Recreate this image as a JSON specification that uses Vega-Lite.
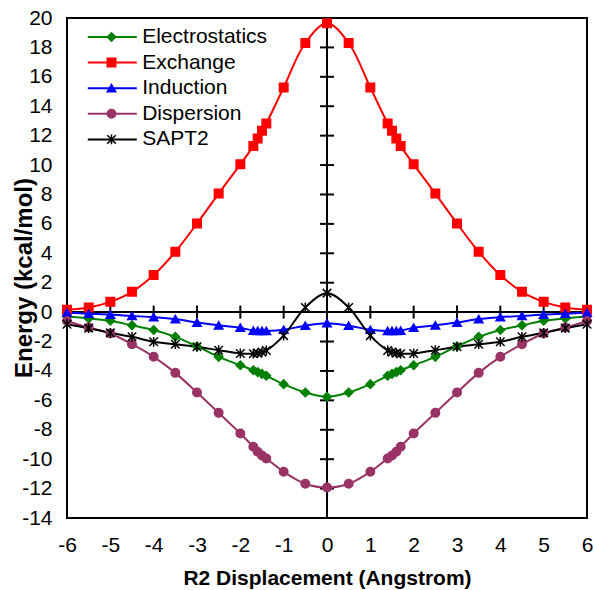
{
  "$schema": "https://vega.github.io/schema/vega-lite/v6.json",
  "width": 520,
  "height": 500,
  "autosize": {"type": "none"},
  "padding": {"left": 67, "top": 18, "right": 7, "bottom": 72},
  "config": {
    "font": "Liberation Sans",
    "view": {"stroke": "black", "strokeWidth": 2},
    "axis": {"grid": false, "domain": false, "ticks": false, "tickSize": 0, "labelOverlap": false, "labelFlush": false, "labelFont": "Liberation Sans", "labelFontSize": 21, "labelColor": "black", "titleFont": "Liberation Sans", "titleFontSize": 21, "titleFontWeight": "bold", "titleColor": "black"}
  },
  "datasets": {
    "d": [
      {"x": -6, "y": -0.3, "s": "Electrostatics"}, {"x": -5.5, "y": -0.43, "s": "Electrostatics"}, {"x": -5, "y": -0.59, "s": "Electrostatics"}, {"x": -4.5, "y": -0.9, "s": "Electrostatics"}, {"x": -4, "y": -1.22, "s": "Electrostatics"}, {"x": -3.5, "y": -1.68, "s": "Electrostatics"}, {"x": -3, "y": -2.33, "s": "Electrostatics"}, {"x": -2.5, "y": -3.04, "s": "Electrostatics"}, {"x": -2, "y": -3.61, "s": "Electrostatics"}, {"x": -1.7, "y": -3.95, "s": "Electrostatics"}, {"x": -1.6, "y": -4.08, "s": "Electrostatics"}, {"x": -1.5, "y": -4.2, "s": "Electrostatics"}, {"x": -1.4, "y": -4.33, "s": "Electrostatics"}, {"x": -1, "y": -4.9, "s": "Electrostatics"}, {"x": -0.5, "y": -5.47, "s": "Electrostatics"}, {"x": 0, "y": -5.76, "s": "Electrostatics"}, {"x": 0.5, "y": -5.47, "s": "Electrostatics"}, {"x": 1, "y": -4.9, "s": "Electrostatics"}, {"x": 1.4, "y": -4.33, "s": "Electrostatics"}, {"x": 1.5, "y": -4.2, "s": "Electrostatics"}, {"x": 1.6, "y": -4.08, "s": "Electrostatics"}, {"x": 1.7, "y": -3.95, "s": "Electrostatics"}, {"x": 2, "y": -3.61, "s": "Electrostatics"}, {"x": 2.5, "y": -3.04, "s": "Electrostatics"}, {"x": 3, "y": -2.33, "s": "Electrostatics"}, {"x": 3.5, "y": -1.68, "s": "Electrostatics"}, {"x": 4, "y": -1.22, "s": "Electrostatics"}, {"x": 4.5, "y": -0.9, "s": "Electrostatics"}, {"x": 5, "y": -0.59, "s": "Electrostatics"}, {"x": 5.5, "y": -0.43, "s": "Electrostatics"}, {"x": 6, "y": -0.3, "s": "Electrostatics"},
      {"x": -6, "y": 0.16, "s": "Exchange"}, {"x": -5.5, "y": 0.32, "s": "Exchange"}, {"x": -5, "y": 0.7, "s": "Exchange"}, {"x": -4.5, "y": 1.38, "s": "Exchange"}, {"x": -4, "y": 2.52, "s": "Exchange"}, {"x": -3.5, "y": 4.1, "s": "Exchange"}, {"x": -3, "y": 6.03, "s": "Exchange"}, {"x": -2.5, "y": 8.06, "s": "Exchange"}, {"x": -2, "y": 10.05, "s": "Exchange"}, {"x": -1.7, "y": 11.29, "s": "Exchange"}, {"x": -1.6, "y": 11.8, "s": "Exchange"}, {"x": -1.5, "y": 12.33, "s": "Exchange"}, {"x": -1.4, "y": 12.83, "s": "Exchange"}, {"x": -1, "y": 15.27, "s": "Exchange"}, {"x": -0.5, "y": 18.3, "s": "Exchange"}, {"x": 0, "y": 19.65, "s": "Exchange"}, {"x": 0.5, "y": 18.3, "s": "Exchange"}, {"x": 1, "y": 15.27, "s": "Exchange"}, {"x": 1.4, "y": 12.83, "s": "Exchange"}, {"x": 1.5, "y": 12.33, "s": "Exchange"}, {"x": 1.6, "y": 11.8, "s": "Exchange"}, {"x": 1.7, "y": 11.29, "s": "Exchange"}, {"x": 2, "y": 10.05, "s": "Exchange"}, {"x": 2.5, "y": 8.06, "s": "Exchange"}, {"x": 3, "y": 6.03, "s": "Exchange"}, {"x": 3.5, "y": 4.1, "s": "Exchange"}, {"x": 4, "y": 2.52, "s": "Exchange"}, {"x": 4.5, "y": 1.38, "s": "Exchange"}, {"x": 5, "y": 0.7, "s": "Exchange"}, {"x": 5.5, "y": 0.32, "s": "Exchange"}, {"x": 6, "y": 0.16, "s": "Exchange"},
      {"x": -6, "y": -0.04, "s": "Induction"}, {"x": -5.5, "y": -0.11, "s": "Induction"}, {"x": -5, "y": -0.17, "s": "Induction"}, {"x": -4.5, "y": -0.26, "s": "Induction"}, {"x": -4, "y": -0.34, "s": "Induction"}, {"x": -3.5, "y": -0.47, "s": "Induction"}, {"x": -3, "y": -0.71, "s": "Induction"}, {"x": -2.5, "y": -0.9, "s": "Induction"}, {"x": -2, "y": -1.06, "s": "Induction"}, {"x": -1.7, "y": -1.26, "s": "Induction"}, {"x": -1.6, "y": -1.27, "s": "Induction"}, {"x": -1.5, "y": -1.28, "s": "Induction"}, {"x": -1.4, "y": -1.28, "s": "Induction"}, {"x": -1, "y": -1.2, "s": "Induction"}, {"x": -0.5, "y": -0.92, "s": "Induction"}, {"x": 0, "y": -0.75, "s": "Induction"}, {"x": 0.5, "y": -0.92, "s": "Induction"}, {"x": 1, "y": -1.2, "s": "Induction"}, {"x": 1.4, "y": -1.28, "s": "Induction"}, {"x": 1.5, "y": -1.28, "s": "Induction"}, {"x": 1.6, "y": -1.27, "s": "Induction"}, {"x": 1.7, "y": -1.26, "s": "Induction"}, {"x": 2, "y": -1.06, "s": "Induction"}, {"x": 2.5, "y": -0.9, "s": "Induction"}, {"x": 3, "y": -0.71, "s": "Induction"}, {"x": 3.5, "y": -0.47, "s": "Induction"}, {"x": 4, "y": -0.34, "s": "Induction"}, {"x": 4.5, "y": -0.26, "s": "Induction"}, {"x": 5, "y": -0.17, "s": "Induction"}, {"x": 5.5, "y": -0.11, "s": "Induction"}, {"x": 6, "y": -0.04, "s": "Induction"},
      {"x": -6, "y": -0.6, "s": "Dispersion"}, {"x": -5.5, "y": -1.05, "s": "Dispersion"}, {"x": -5, "y": -1.45, "s": "Dispersion"}, {"x": -4.5, "y": -2.18, "s": "Dispersion"}, {"x": -4, "y": -3.04, "s": "Dispersion"}, {"x": -3.5, "y": -4.13, "s": "Dispersion"}, {"x": -3, "y": -5.47, "s": "Dispersion"}, {"x": -2.5, "y": -6.85, "s": "Dispersion"}, {"x": -2, "y": -8.25, "s": "Dispersion"}, {"x": -1.7, "y": -9.16, "s": "Dispersion"}, {"x": -1.6, "y": -9.5, "s": "Dispersion"}, {"x": -1.5, "y": -9.75, "s": "Dispersion"}, {"x": -1.4, "y": -9.95, "s": "Dispersion"}, {"x": -1, "y": -10.86, "s": "Dispersion"}, {"x": -0.5, "y": -11.67, "s": "Dispersion"}, {"x": 0, "y": -11.93, "s": "Dispersion"}, {"x": 0.5, "y": -11.67, "s": "Dispersion"}, {"x": 1, "y": -10.86, "s": "Dispersion"}, {"x": 1.4, "y": -9.95, "s": "Dispersion"}, {"x": 1.5, "y": -9.75, "s": "Dispersion"}, {"x": 1.6, "y": -9.5, "s": "Dispersion"}, {"x": 1.7, "y": -9.16, "s": "Dispersion"}, {"x": 2, "y": -8.25, "s": "Dispersion"}, {"x": 2.5, "y": -6.85, "s": "Dispersion"}, {"x": 3, "y": -5.47, "s": "Dispersion"}, {"x": 3.5, "y": -4.13, "s": "Dispersion"}, {"x": 4, "y": -3.04, "s": "Dispersion"}, {"x": 4.5, "y": -2.18, "s": "Dispersion"}, {"x": 5, "y": -1.45, "s": "Dispersion"}, {"x": 5.5, "y": -1.05, "s": "Dispersion"}, {"x": 6, "y": -0.6, "s": "Dispersion"},
      {"x": -6, "y": -0.82, "s": "SAPT2"}, {"x": -5.5, "y": -1.09, "s": "SAPT2"}, {"x": -5, "y": -1.41, "s": "SAPT2"}, {"x": -4.5, "y": -1.68, "s": "SAPT2"}, {"x": -4, "y": -2.02, "s": "SAPT2"}, {"x": -3.5, "y": -2.18, "s": "SAPT2"}, {"x": -3, "y": -2.36, "s": "SAPT2"}, {"x": -2.5, "y": -2.59, "s": "SAPT2"}, {"x": -2, "y": -2.81, "s": "SAPT2"}, {"x": -1.7, "y": -2.83, "s": "SAPT2"}, {"x": -1.6, "y": -2.79, "s": "SAPT2"}, {"x": -1.5, "y": -2.72, "s": "SAPT2"}, {"x": -1.4, "y": -2.61, "s": "SAPT2"}, {"x": -1, "y": -1.6, "s": "SAPT2"}, {"x": -0.5, "y": 0.32, "s": "SAPT2"}, {"x": 0, "y": 1.29, "s": "SAPT2"}, {"x": 0.5, "y": 0.32, "s": "SAPT2"}, {"x": 1, "y": -1.6, "s": "SAPT2"}, {"x": 1.4, "y": -2.61, "s": "SAPT2"}, {"x": 1.5, "y": -2.72, "s": "SAPT2"}, {"x": 1.6, "y": -2.79, "s": "SAPT2"}, {"x": 1.7, "y": -2.83, "s": "SAPT2"}, {"x": 2, "y": -2.81, "s": "SAPT2"}, {"x": 2.5, "y": -2.59, "s": "SAPT2"}, {"x": 3, "y": -2.36, "s": "SAPT2"}, {"x": 3.5, "y": -2.18, "s": "SAPT2"}, {"x": 4, "y": -2.02, "s": "SAPT2"}, {"x": 4.5, "y": -1.68, "s": "SAPT2"}, {"x": 5, "y": -1.41, "s": "SAPT2"}, {"x": 5.5, "y": -1.09, "s": "SAPT2"}, {"x": 6, "y": -0.82, "s": "SAPT2"}
    ],
    "xt": [{"v": -6}, {"v": -5}, {"v": -4}, {"v": -3}, {"v": -2}, {"v": -1}, {"v": 1}, {"v": 2}, {"v": 3}, {"v": 4}, {"v": 5}, {"v": 6}],
    "yt": [{"v": -14}, {"v": -12}, {"v": -10}, {"v": -8}, {"v": -6}, {"v": -4}, {"v": -2}, {"v": 2}, {"v": 4}, {"v": 6}, {"v": 8}, {"v": 10}, {"v": 12}, {"v": 14}, {"v": 16}, {"v": 18}, {"v": 20}]
  },
  "layer": [
    {
      "data": {"name": "d"},
      "mark": {"type": "rule", "color": "black", "strokeWidth": 2},
      "encoding": {"x": {"datum": 0, "type": "quantitative", "title": "R2 Displacement (Angstrom)"}}
    },
    {
      "data": {"name": "d"},
      "mark": {"type": "rule", "color": "black", "strokeWidth": 2},
      "encoding": {"y": {"datum": 0, "type": "quantitative", "title": "Energy (kcal/mol)"}}
    },
    {
      "data": {"name": "xt"},
      "mark": {"type": "tick", "orient": "vertical", "size": 13, "thickness": 2, "color": "black", "opacity": 1},
      "encoding": {"x": {"field": "v", "type": "quantitative", "title": "R2 Displacement (Angstrom)"}, "y": {"datum": 0, "type": "quantitative", "title": "Energy (kcal/mol)"}}
    },
    {
      "data": {"name": "yt"},
      "mark": {"type": "tick", "orient": "horizontal", "size": 14, "thickness": 2, "color": "black", "opacity": 1},
      "encoding": {"y": {"field": "v", "type": "quantitative", "title": "Energy (kcal/mol)"}, "x": {"datum": 0, "type": "quantitative", "title": "R2 Displacement (Angstrom)"}}
    },
    {
      "data": {"name": "d"},
      "mark": {"type": "line", "interpolate": "catmull-rom", "strokeWidth": 2},
      "encoding": {
        "x": {"field": "x", "type": "quantitative", "title": "R2 Displacement (Angstrom)", "scale": {"domain": [-6, 6], "nice": false, "zero": false}, "axis": {"values": [-6, -5, -4, -3, -2, -1, 0, 1, 2, 3, 4, 5, 6], "tickCount": 13, "labelExpr": "datum.value + ''", "labelOverlap": false, "labelPadding": 16, "titlePadding": 12}},
        "y": {"field": "y", "type": "quantitative", "title": "Energy (kcal/mol)", "scale": {"domain": [-14, 20], "nice": false, "zero": false}, "axis": {"values": [-14, -12, -10, -8, -6, -4, -2, 0, 2, 4, 6, 8, 10, 12, 14, 16, 18, 20], "tickCount": 18, "labelExpr": "datum.value + ''", "labelOverlap": false, "labelSeparation": 0, "labelPadding": 15, "titleFontSize": 24, "titleBaseline": "alphabetic", "titleX": -36, "titleY": 259.5, "titleAngle": 270}},
        "color": {"field": "s", "type": "nominal", "sort": ["Electrostatics", "Exchange", "Induction", "Dispersion", "SAPT2"], "scale": {"range": ["#008000", "#FF0000", "#0000FF", "#993366", "#000000"]}, "legend": {"orient": "none", "legendX": 34.8, "legendY": 8.5, "title": null, "padding": 0, "symbolType": "M-3,0H3", "symbolSize": 267, "symbolStrokeWidth": 2, "labelFont": "Liberation Sans", "labelFontSize": 21, "labelColor": "black", "labelOffset": 19.4, "rowPadding": 3.6, "labelLimit": 400}}
      }
    },
    {
      "data": {"name": "d"},
      "mark": {"type": "point", "filled": true, "size": 72, "strokeWidth": 1.5, "opacity": 1},
      "encoding": {
        "x": {"field": "x", "type": "quantitative", "title": "R2 Displacement (Angstrom)"},
        "y": {"field": "y", "type": "quantitative", "title": "Energy (kcal/mol)"},
        "fill": {"field": "s", "type": "nominal", "scale": {"domain": ["Electrostatics", "Exchange", "Induction", "Dispersion", "SAPT2"], "range": ["#008000", "#FF0000", "#0000FF", "#993366", "#000000"]}, "legend": {"orient": "none", "legendX": 34, "legendY": 8.5, "title": null, "padding": 0, "symbolSize": 72, "symbolStrokeWidth": 1.5, "labelFont": "Liberation Sans", "labelFontSize": 21, "labelOpacity": 0, "labelExpr": "' '", "labelOffset": 4, "rowPadding": 3.6, "labelLimit": 400}},
        "stroke": {"field": "s", "type": "nominal", "scale": {"domain": ["Electrostatics", "Exchange", "Induction", "Dispersion", "SAPT2"], "range": ["#008000", "#FF0000", "#0000FF", "#993366", "#000000"]}, "legend": {"orient": "none", "legendX": 34, "legendY": 8.5, "title": null, "padding": 0, "symbolSize": 72, "symbolStrokeWidth": 1.5, "labelFont": "Liberation Sans", "labelFontSize": 21, "labelOpacity": 0, "labelExpr": "' '", "labelOffset": 4, "rowPadding": 3.6, "labelLimit": 400}},
        "shape": {"field": "s", "type": "nominal", "scale": {"domain": ["Electrostatics", "Exchange", "Induction", "Dispersion", "SAPT2"], "range": ["diamond", "square", "M0,-0.85L1,0.85L-1,0.85Z", "circle", "M-1,-1L1,1M-1,1L1,-1M0,-1.15L0,1.15"]}, "legend": {"orient": "none", "legendX": 34, "legendY": 8.5, "title": null, "padding": 0, "symbolSize": 72, "symbolStrokeWidth": 1.5, "labelFont": "Liberation Sans", "labelFontSize": 21, "labelOpacity": 0, "labelExpr": "' '", "labelOffset": 4, "rowPadding": 3.6, "labelLimit": 400}}
      }
    }
  ]
}
